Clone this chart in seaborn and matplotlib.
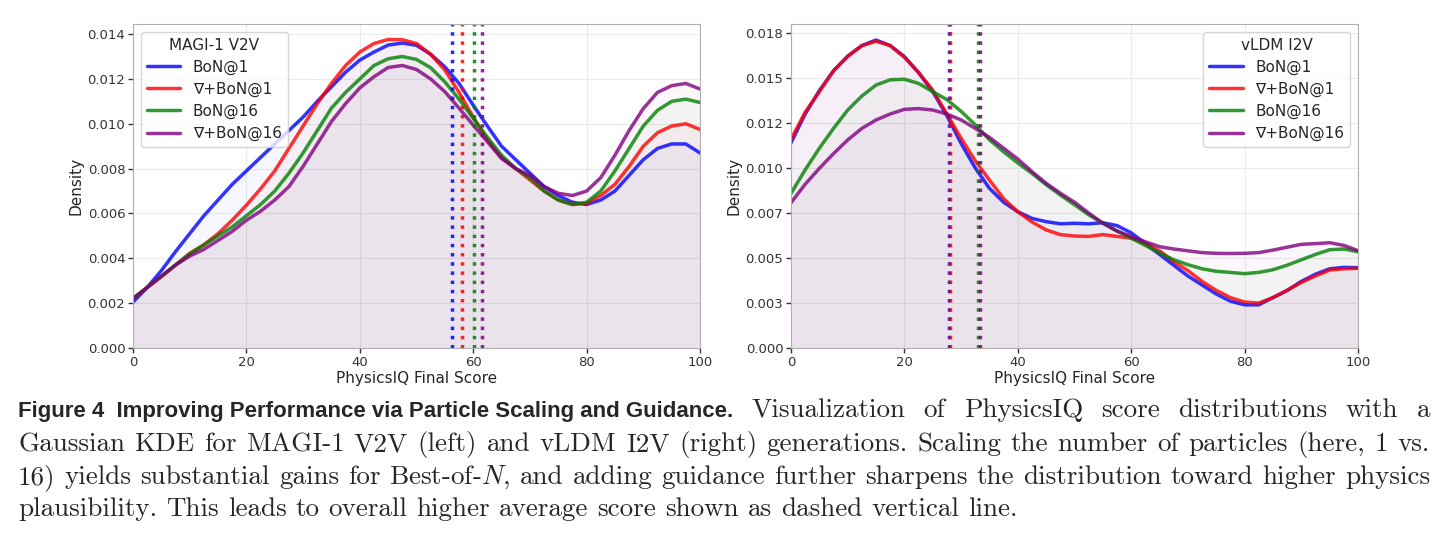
import numpy as np
import pandas as pd
import matplotlib
matplotlib.use('Agg')
import matplotlib.pyplot as plt
import seaborn as sns
from matplotlib.ticker import MultipleLocator, FormatStrFormatter

# --- data (density every 2.5 score points) ---
SCORE = [i * 2.5 for i in range(41)]
METHODS = ['BoN@1', '∇+BoN@1', 'BoN@16', '∇+BoN@16']
COLORS = ['blue', 'red', 'green', 'purple']

# MAGI-1 V2V (left)
magi_bon1 = [0.00205, 0.0027, 0.00345, 0.0043, 0.0051, 0.0059, 0.0066, 0.0073, 0.0079, 0.0085,
             0.0091, 0.0097, 0.0103, 0.0110, 0.01165, 0.0123, 0.01284, 0.0132, 0.01351, 0.0136,
             0.0135, 0.0131, 0.01254, 0.0118, 0.01083, 0.0099, 0.0090, 0.0084, 0.0078, 0.0072,
             0.0068, 0.0065, 0.0064, 0.0066, 0.0070, 0.0077, 0.0084, 0.0089, 0.0091, 0.0091, 0.0087]
magi_grad1 = [0.00221, 0.0027, 0.00318, 0.0037, 0.00422, 0.0046, 0.0051, 0.0057, 0.00637, 0.0071,
              0.0079, 0.0089, 0.0099, 0.0109, 0.0118, 0.0126, 0.0132, 0.01358, 0.01376, 0.01375,
              0.01358, 0.0131, 0.0124, 0.0114, 0.0103, 0.0093, 0.0085, 0.0080, 0.0075, 0.0070,
              0.0066, 0.0064, 0.00645, 0.0068, 0.0073, 0.0081, 0.0090, 0.0096, 0.0099, 0.0100, 0.00975]
magi_bon16 = [0.0022, 0.0027, 0.0032, 0.0037, 0.0042, 0.0046, 0.0050, 0.0054, 0.0059, 0.0064,
              0.0070, 0.0078, 0.0087, 0.0097, 0.0107, 0.0114, 0.0120, 0.0126, 0.0129, 0.0130,
              0.01287, 0.0125, 0.01187, 0.0111, 0.01024, 0.0094, 0.0086, 0.0080, 0.0076, 0.0070,
              0.0066, 0.0064, 0.0065, 0.0070, 0.0079, 0.0089, 0.0099, 0.0106, 0.0110, 0.0111, 0.01095]
magi_grad16 = [0.0022, 0.0027, 0.0032, 0.0037, 0.0041, 0.0044, 0.0048, 0.0052, 0.0057, 0.0061,
               0.0066, 0.0072, 0.0081, 0.0091, 0.0101, 0.0109, 0.0116, 0.0121, 0.01251, 0.0126,
               0.01242, 0.0120, 0.01143, 0.0107, 0.00994, 0.0092, 0.00845, 0.0080, 0.0077, 0.0072,
               0.0069, 0.0068, 0.0070, 0.0076, 0.0086, 0.0097, 0.01068, 0.0114, 0.0117, 0.0118, 0.01155]
magi_means = [56.3, 58.1, 60.2, 61.6]

# vLDM I2V (right)
vldm_bon1 = [0.0114, 0.0130, 0.0143, 0.0154, 0.01622, 0.0168, 0.01711, 0.0168, 0.01619, 0.0153,
             0.01424, 0.0129, 0.01137, 0.0100, 0.00887, 0.0081, 0.00757, 0.0072, 0.00702, 0.0069,
             0.00693, 0.0069, 0.00696, 0.0068, 0.0064, 0.0058, 0.0052, 0.0046, 0.0040, 0.0035,
             0.0030, 0.0026, 0.0024, 0.0024, 0.0028, 0.0032, 0.0037, 0.0041, 0.0044, 0.00448, 0.00446]
vldm_grad1 = [0.0116, 0.0131, 0.01424, 0.0154, 0.01619, 0.0168, 0.01704, 0.0168, 0.01615, 0.0153,
              0.01433, 0.0130, 0.01165, 0.0104, 0.00933, 0.0083, 0.00757, 0.0070, 0.00656, 0.0063,
              0.00622, 0.0062, 0.0063, 0.0062, 0.0061, 0.0058, 0.0054, 0.0048, 0.0043, 0.0037,
              0.0032, 0.0028, 0.00255, 0.0025, 0.0028, 0.0032, 0.00365, 0.0040, 0.00433, 0.0044, 0.00443]
vldm_bon16 = [0.00859, 0.0099, 0.0111, 0.0122, 0.01322, 0.0140, 0.01461, 0.0149, 0.01493, 0.0147,
              0.01424, 0.0138, 0.01315, 0.0124, 0.01157, 0.0109, 0.01028, 0.0097, 0.00907, 0.0085,
              0.00796, 0.0074, 0.00694, 0.0065, 0.00611, 0.0057, 0.00528, 0.0049, 0.00463, 0.0044,
              0.00426, 0.0042, 0.00413, 0.0042, 0.00435, 0.0046, 0.0049, 0.0052, 0.00546, 0.0055, 0.00535]
vldm_grad16 = [0.00807, 0.0091, 0.00998, 0.0108, 0.01156, 0.0122, 0.01267, 0.0130, 0.01326, 0.0133,
               0.01322, 0.0130, 0.01267, 0.0122, 0.0117, 0.0111, 0.0105, 0.0098, 0.00915, 0.0086,
               0.0081, 0.0075, 0.00693, 0.0065, 0.0062, 0.0059, 0.00563, 0.0055, 0.0054, 0.0053,
               0.00526, 0.00525, 0.00526, 0.0053, 0.00544, 0.0056, 0.00576, 0.0058, 0.00585, 0.0057, 0.00541]
vldm_means = [27.85, 28.0, 32.95, 33.4]

CAPTION = [
    [('Figure 4  Improving Performance via Particle Scaling and Guidance.', 'b'),
     ('Visualization of PhysicsIQ score distributions with a', 'r')],
    [('Gaussian KDE for MAGI-1 V2V (left) and vLDM I2V (right) generations. Scaling the number of particles (here, 1 vs.', 'r')],
    [('16) yields substantial gains for Best-of-$N$, and adding guidance further sharpens the distribution toward higher physics', 'r')],
    [('plausibility. This leads to overall higher average score shown as dashed vertical line.', 'r')],
]

# --- style ---
sns.set_style('whitegrid', rc={
    'axes.edgecolor': '#b0b0b0', 'axes.linewidth': 1.6,
    'grid.color': '#ebebeb', 'grid.linewidth': 0.8,
    'xtick.bottom': True, 'ytick.left': True,
    'xtick.color': '#333333', 'ytick.color': '#333333',
})
plt.rcParams['font.family'] = ['DejaVu Sans']
plt.rcParams['mathtext.fontset'] = 'cm'

W, H = 1448, 537
fig = plt.figure(figsize=(W / 100, H / 100), dpi=100)
ax1 = fig.add_axes([133 / W, 1 - 348 / H, 567 / W, 324 / H])
ax2 = fig.add_axes([791 / W, 1 - 348 / H, 567 / W, 324 / H])


def draw_panel(ax, curves, means, title, loc, ymax, ystep):
    df = pd.DataFrame({'score': SCORE * len(METHODS),
                       'density': sum(curves, []),
                       'method': np.repeat(METHODS, len(SCORE))})
    for m, c in zip(METHODS, COLORS):
        sub = df[df['method'] == m]
        ax.fill_between(sub['score'], sub['density'], color=c, alpha=0.03, lw=0)
    sns.lineplot(data=df, x='score', y='density', hue='method', hue_order=METHODS,
                 palette=COLORS, lw=2.5, alpha=0.8, ax=ax)
    for mu, c in zip(means, COLORS):
        ax.axvline(mu, color=c, ls=':', lw=2.5, alpha=0.85)
    ax.set_xlim(0, 100)
    ax.set_ylim(0, ymax)
    ax.xaxis.set_major_locator(MultipleLocator(20))
    ax.yaxis.set_major_locator(MultipleLocator(ystep))
    ax.yaxis.set_major_formatter(FormatStrFormatter('%.3f'))
    ax.tick_params(labelsize=9.5, length=3.5, width=1, pad=2)
    ax.set_xlabel('PhysicsIQ Final Score', fontsize=11, labelpad=2)
    ax.set_ylabel('Density', fontsize=11, labelpad=3)
    ax.legend(title=title, loc=loc, fontsize=11, title_fontsize=11,
              handlelength=2.2, labelspacing=0.45, framealpha=0.8)


draw_panel(ax1, [magi_bon1, magi_grad1, magi_bon16, magi_grad16], magi_means,
           'MAGI-1 V2V', 'upper left', 0.01445, 0.002)
draw_panel(ax2, [vldm_bon1, vldm_grad1, vldm_bon16, vldm_grad16], vldm_means,
           'vLDM I2V', 'upper right', 0.0180, 0.0025)

# --- caption, justified like the paper (bold run-in head keeps its own spacing) ---
BOLD_KW = dict(family=['Liberation Sans', 'DejaVu Sans'], fontweight='bold', fontsize=16)
SERIF_KW = dict(family=['cmr10', 'DejaVu Serif'], fontsize=19.5)
renderer = fig.canvas.get_renderer()
baselines = [417, 451, 484, 516]
X0, X1 = 18, 1430
for i, (line, y_px) in enumerate(zip(CAPTION, baselines)):
    arts = []
    for chunk, style in line:
        if style == 'b':
            arts.append(fig.text(0, 1 - y_px / H, chunk, va='baseline', ha='left', **BOLD_KW))
        else:
            for word in chunk.split(' '):
                arts.append(fig.text(0, 1 - y_px / H, word, va='baseline', ha='left', **SERIF_KW))
    widths = [t.get_window_extent(renderer).width for t in arts]
    if i < len(CAPTION) - 1:
        gap = (X1 - X0 - sum(widths)) / (len(arts) - 1)
    else:
        gap = 0.333 * 19.5 * 100 / 72
    x = X0
    for t, w in zip(arts, widths):
        t.set_x(x / W)
        x += w + gap

fig.savefig('out.png', dpi=100)
